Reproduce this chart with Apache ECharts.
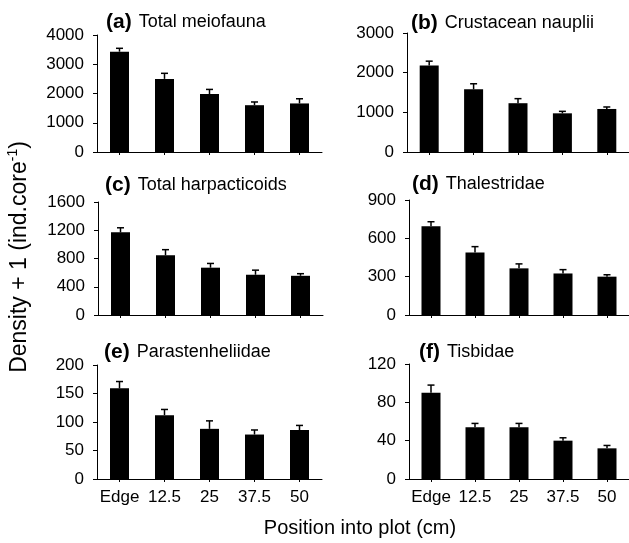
<!DOCTYPE html>
<html>
<head>
<meta charset="utf-8">
<script src="https://cdn.jsdelivr.net/npm/echarts@6/dist/echarts.min.js"></script>
<style>
html,body{margin:0;padding:0;background:#fff;}
#chart{width:629px;height:543px;}
</style>
</head>
<body>
<div id="chart"></div>
<script>
// ---- data ----
const categories = ['Edge', '12.5', '25', '37.5', '50'];

const panelLetters = ['(a)', '(b)', '(c)', '(d)', '(e)', '(f)'];
const panelNames = ['Total meiofauna', 'Crustacean nauplii', 'Total harpacticoids', 'Thalestridae', 'Parastenheliidae', 'Tisbidae'];

const meiofauna = [3430, 2500, 1980, 1600, 1660];
const meiofaunaSE = [115, 190, 160, 110, 160];

const nauplii = [2180, 1580, 1230, 975, 1085];
const naupliiSE = [110, 140, 115, 50, 50];

const harpacticoids = [1170, 845, 670, 570, 555];
const harpacticoidsSE = [65, 80, 60, 65, 30];

const thalestridae = [695, 490, 365, 325, 300];
const thalestridaeSE = [35, 45, 35, 30, 15];

const parastenheliidae = [159, 112, 88, 78, 86];
const parastenheliidaeSE = [12, 10, 14, 8, 8];

const tisbidae = [90, 54, 54, 40, 32];
const tisbidaeSE = [8, 4, 4, 3, 3];

const yMax = [4000, 3000, 1600, 900, 200, 120];
const yStep = [1000, 1000, 400, 300, 50, 40];

const yAxisTitle = 'Density + 1 (ind.core';
const xAxisTitle = 'Position into plot (cm)';

// ---- layout ----
const FONT = '"Liberation Sans", Arial, sans-serif';
const values = [meiofauna, nauplii, harpacticoids, thalestridae, parastenheliidae, tisbidae];
const errors = [meiofaunaSE, naupliiSE, harpacticoidsSE, thalestridaeSE, parastenheliidaeSE, tisbidaeSE];

const grids = [
  {left: 97, top: 35, width: 225, height: 117},
  {left: 407, top: 33, width: 222, height: 119},
  {left: 98, top: 202, width: 225, height: 113},
  {left: 409, top: 200, width: 222, height: 115},
  {left: 97, top: 365, width: 225, height: 114},
  {left: 409, top: 364, width: 222, height: 115}
];
const titlePos = [
  {left: 106, top: 9},
  {left: 411, top: 10},
  {left: 105, top: 172},
  {left: 412, top: 171},
  {left: 104, top: 339},
  {left: 419, top: 339}
];

const option = {
  backgroundColor: '#fff',
  animation: false,
  title: [],
  grid: [],
  xAxis: [],
  yAxis: [],
  series: [],
  graphic: [
    {
      type: 'text', x: 20, y: 257, rotation: Math.PI / 2,
      style: {
        text: yAxisTitle + '{s|-1}{n|)}',
        fontSize: 23, fontFamily: FONT, fill: '#000',
        align: 'center', verticalAlign: 'middle',
        rich: {
          s: {fontSize: 14, fontFamily: FONT, fill: '#000', padding: [0, 0, 13, 0]},
          n: {fontSize: 23, fontFamily: FONT, fill: '#000'}
        }
      }
    },
    {
      type: 'text', x: 360, y: 528,
      style: {
        text: xAxisTitle, fontSize: 20, fontFamily: FONT, fill: '#000',
        align: 'center', verticalAlign: 'middle'
      }
    }
  ]
};

for (let i = 0; i < 6; i++) {
  option.grid.push(Object.assign({containLabel: false}, grids[i]));
  option.title.push({
    left: titlePos[i].left, top: titlePos[i].top,
    text: '{b|' + panelLetters[i] + '}{n|' + panelNames[i] + '}',
    padding: 0,
    textStyle: {
      fontWeight: 'normal',
      rich: {
        b: {fontSize: 21, fontWeight: 'bold', fontFamily: FONT, color: '#000', lineHeight: 26, padding: [0, 7, 0, 0]},
        n: {fontSize: 18, fontWeight: 'normal', fontFamily: FONT, color: '#000', lineHeight: 26}
      }
    }
  });
  const showX = i >= 4;
  option.xAxis.push({
    type: 'category', gridIndex: i, data: categories,
    axisLine: {lineStyle: {color: '#000', width: 1}},
    axisTick: {show: true, alignWithLabel: true, length: 3, lineStyle: {color: '#000'}},
    axisLabel: {show: showX, color: '#000', fontSize: 17, fontFamily: FONT, margin: 10, interval: 0}
  });
  option.yAxis.push({
    type: 'value', gridIndex: i, min: 0, max: yMax[i], interval: yStep[i],
    axisLine: {show: true, lineStyle: {color: '#000', width: 1}},
    axisTick: {show: true, length: 4, lineStyle: {color: '#000'}},
    splitLine: {show: false},
    axisLabel: {color: '#000', fontSize: 17, fontFamily: FONT, margin: 13, formatter: v => String(v)}
  });
  option.series.push({
    type: 'bar', xAxisIndex: i, yAxisIndex: i,
    data: values[i], barWidth: 19,
    itemStyle: {color: '#000'}, z: 2
  });
  option.series.push({
    type: 'custom', xAxisIndex: i, yAxisIndex: i, z: 3,
    encode: {x: 0, y: 1},
    data: values[i].map((v, k) => [k, v, errors[i][k]]),
    renderItem: function (params, api) {
      const x = api.value(0), v = api.value(1), e = api.value(2);
      const p0 = api.coord([x, v]);
      const p1 = api.coord([x, v + e]);
      const st = {stroke: '#000', lineWidth: 1.5};
      return {
        type: 'group',
        children: [
          {type: 'line', shape: {x1: p0[0], y1: p0[1], x2: p1[0], y2: p1[1]}, style: st},
          {type: 'line', shape: {x1: p1[0] - 3.5, y1: p1[1], x2: p1[0] + 3.5, y2: p1[1]}, style: st}
        ]
      };
    }
  });
}

const chart = echarts.init(document.getElementById('chart'), null, {renderer: 'canvas'});
chart.setOption(option);
</script>
</body>
</html>
